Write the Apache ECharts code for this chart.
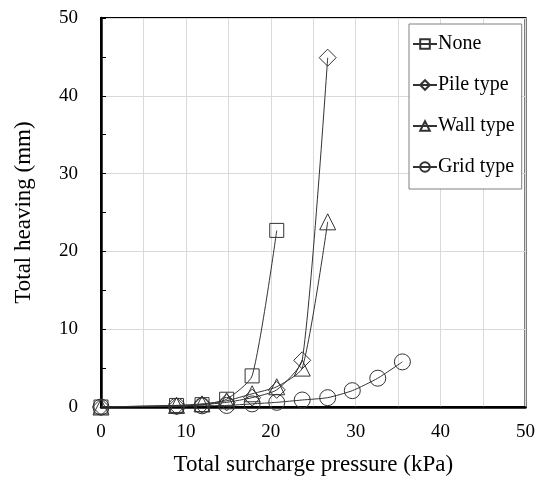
<!DOCTYPE html>
<html><head><meta charset="utf-8">
<script src="https://cdn.jsdelivr.net/npm/echarts@6/dist/echarts.min.js"></script>
<style>html,body{margin:0;padding:0;background:#fff}#c{width:538px;height:481px}</style>
</head><body><div id="c"></div>
<script>
const seriesNames = ['None', 'Pile type', 'Wall type', 'Grid type'];
const xNone = [0, 8.9, 11.9, 14.8, 17.8, 20.7];
const yNone = [0, 0.2, 0.3, 1.0, 4.0, 22.7];
const xPile = [0, 8.9, 11.9, 14.8, 17.8, 20.7, 23.7, 26.7];
const yPile = [0, 0.1, 0.3, 0.6, 1.2, 2.2, 6.0, 44.9];
const xWall = [0, 8.9, 11.9, 14.8, 17.8, 20.7, 23.7, 26.7];
const yWall = [0, 0.2, 0.4, 0.8, 1.7, 2.6, 5.0, 23.8];
const xGrid = [0, 8.9, 11.9, 14.8, 17.8, 20.7, 23.7, 26.7, 29.6, 32.6, 35.5];
const yGrid = [0, 0.1, 0.15, 0.2, 0.4, 0.6, 0.9, 1.2, 2.1, 3.7, 5.8];
const xTitle = 'Total surcharge pressure (kPa)';
const yTitle = 'Total heaving (mm)';

const font = 'Liberation Serif';
const zip = (xs, ys) => xs.map((x, i) => [x, ys[i]]);
const symbols = ['rect', 'diamond', 'triangle', 'circle'];
const sizes = [14, 17, 16, 16];
const datas = [zip(xNone, yNone), zip(xPile, yPile), zip(xWall, yWall), zip(xGrid, yGrid)];

const chart = echarts.init(document.getElementById('c'), null, {renderer: 'canvas'});
chart.setOption({
  animation: false,
  backgroundColor: '#fff',
  grid: {left: 101, right: 6, top: 18, bottom: 73, show: true, borderColor: '#000', borderWidth: 2, backgroundColor: 'transparent'},
  legend: {
    orient: 'vertical', left: 409, top: 24,
    backgroundColor: '#fff', borderColor: '#808080', borderWidth: 1,
    padding: [10, 7, 12, 3], itemGap: 21, itemWidth: 24, itemHeight: 12,
    textStyle: {fontFamily: font, fontSize: 20, color: '#000', padding: [0, 0, 0, -4]},
    data: seriesNames
  },
  xAxis: {
    type: 'value', min: 0, max: 50, interval: 5,
    name: xTitle, nameLocation: 'middle', nameGap: 46,
    nameTextStyle: {fontFamily: font, fontSize: 23, color: '#000'},
    axisLine: {show: true, lineStyle: {color: '#000', width: 2.5}},
    axisTick: {show: false},
    axisLabel: {fontFamily: font, fontSize: 19, color: '#000', margin: 16,
      formatter: v => (v % 10 === 0 ? String(v) : '')},
    splitLine: {show: true, lineStyle: {color: '#d9d9d9', width: 1}}
  },
  yAxis: {
    type: 'value', min: 0, max: 50, interval: 10,
    name: yTitle, nameLocation: 'middle', nameGap: 66,
    nameTextStyle: {fontFamily: font, fontSize: 23, color: '#000'},
    axisLine: {show: true, lineStyle: {color: '#000', width: 2.5}},
    axisTick: {show: true, inside: true, length: 5, lineStyle: {color: '#000'}},
    minorTick: {show: true, splitNumber: 2, length: 5, lineStyle: {color: '#000'}},
    axisLabel: {fontFamily: font, fontSize: 19, color: '#000', margin: 23},
    splitLine: {show: true, lineStyle: {color: '#d9d9d9', width: 1}}
  },
  series: seriesNames.map((n, i) => ({
    name: n, type: 'line', data: datas[i], smooth: 0.2,
    symbol: symbols[i], symbolSize: sizes[i], showAllSymbol: true,
    lineStyle: {color: '#333', width: 1},
    itemStyle: {color: 'rgba(255,255,255,0)', borderColor: '#333', borderWidth: 1},
    z: 3 + i
  }))
});
</script></body></html>
